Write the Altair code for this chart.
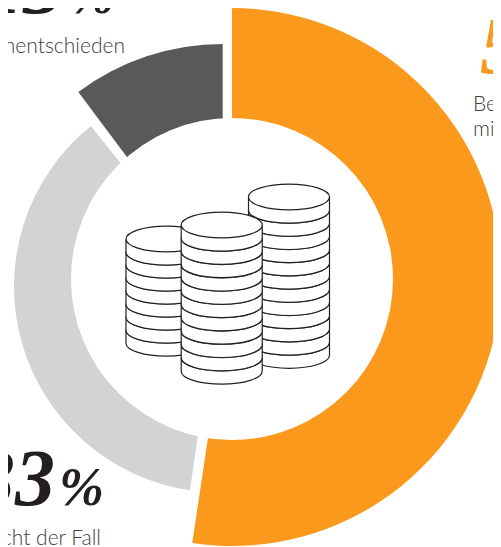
import altair as alt
import pandas as pd

# Ring segments, read in reference pixels and degrees clockwise from 12 o'clock
seg_name = ["Ja", "Nein", "Unentschieden"]
seg_start = [0, 188.4, 323.2]
seg_end = [188.5, 321.15, 360]
seg_cx = [232, 220, 222.7]
seg_cy = [277, 286.5, 285]
seg_outer = [269, 206, 241]
seg_inner = [100, 100, 100]
seg_color = ["#FA991C", "#D1D3D4", "#58595B"]

hole_x = [232]
hole_y = [279]
hole_diameter = [322]

big_text = ["13", "%", "33", "%", "54", "%"]
big_x = [63, 70, 55, 59, 480, 560]
big_y = [13, 13, 505, 505, 73, 73]
big_size = [80, 54, 80, 54, 80, 54]
big_align = ["right", "left", "right", "left", "left", "left"]
big_color = ["#231F20", "#231F20", "#231F20", "#231F20", "#FA991C", "#FA991C"]

label_text = ["Unentschieden", "nicht der Fall", "Be", "mi"]
label_x = [125, 101, 473, 473]
label_y = [53, 545, 111, 136]
label_align = ["right", "right", "left", "left"]

stack_x = [166.5, 289, 221.7]
stack_top = [239, 197, 225]
stack_coins = [8, 12, 11]
coin_step = [13, 13.2, 13.3]
coin_shape = ("M-1,0 C-1,-0.177 -0.552,-0.32 0,-0.32 C0.552,-0.32 1,-0.177 1,0 "
              "C1,0.177 0.552,0.32 0,0.32 C-0.552,0.32 -1,0.177 -1,0 Z "
              "M1,0 L1,0.325 C1,0.502 0.552,0.645 0,0.645 C-0.552,0.645 -1,0.502 -1,0.325 L-1,0")

X = alt.Scale(domain=[8, 493], range=[0, 485], zero=False, nice=False)
Y = alt.Scale(domain=[8, 547], range=[0, 539], zero=False, nice=False)
T = alt.Scale(domain=[0, 360], range=[0, 6.283185307])

segs = pd.DataFrame(dict(name=seg_name, a=seg_start, b=seg_end, cx=seg_cx, cy=seg_cy,
                         ro=seg_outer, ri=seg_inner, c=seg_color))
ring = alt.Chart(segs).mark_arc().encode(
    x=alt.X("cx:Q", scale=X, axis=None),
    y=alt.Y("cy:Q", scale=Y, axis=None),
    theta=alt.Theta("a:Q", scale=T, stack=None),
    theta2="b:Q",
    radius=alt.Radius("ro:Q", scale=None),
    radius2="ri:Q",
    color=alt.Color("c:N", scale=None),
)

hole = alt.Chart(pd.DataFrame(dict(x=hole_x, y=hole_y))).mark_point(
    shape="circle", size=hole_diameter[0] ** 2, filled=True, color="white", opacity=1,
).encode(x=alt.X("x:Q", scale=X, axis=None), y=alt.Y("y:Q", scale=Y, axis=None))

coins = []
for sx, top, n, step in zip(stack_x, stack_top, stack_coins, coin_step):
    for i in range(n - 1, -1, -1):
        coins.append(dict(x=sx, y=top + i * step))
stack = alt.Chart(pd.DataFrame(coins)).mark_point(
    shape=coin_shape, size=6561, filled=False, fill="white", fillOpacity=1,
    stroke="#231F20", strokeWidth=1.2, opacity=1,
).encode(x=alt.X("x:Q", scale=X, axis=None), y=alt.Y("y:Q", scale=Y, axis=None))

big_layers = []
for t, x, y, s, a, c in zip(big_text, big_x, big_y, big_size, big_align, big_color):
    big_layers.append(
        alt.Chart(pd.DataFrame(dict(t=[t], x=[x], y=[y]))).mark_text(
            font="Liberation Serif", fontStyle="italic", fontWeight="bold",
            fontSize=s, align=a, baseline="alphabetic", color=c,
        ).encode(x=alt.X("x:Q", scale=X, axis=None), y=alt.Y("y:Q", scale=Y, axis=None), text="t:N")
    )

label_layers = []
for t, x, y, a in zip(label_text, label_x, label_y, label_align):
    label_layers.append(
        alt.Chart(pd.DataFrame(dict(t=[t], x=[x], y=[y]))).mark_text(
            font="Lato", fontWeight=300, fontSize=21, align=a, baseline="alphabetic", color="#3F4042",
        ).encode(x=alt.X("x:Q", scale=X, axis=None), y=alt.Y("y:Q", scale=Y, axis=None), text="t:N")
    )

chart = alt.layer(ring, hole, stack, *big_layers, *label_layers).properties(
    width=485, height=539, padding=0, autosize=alt.AutoSizeParams(type="none"), background="white"
).configure_view(stroke=None)

chart.save("out.html", embed_options={"renderer": "svg", "actions": False})
